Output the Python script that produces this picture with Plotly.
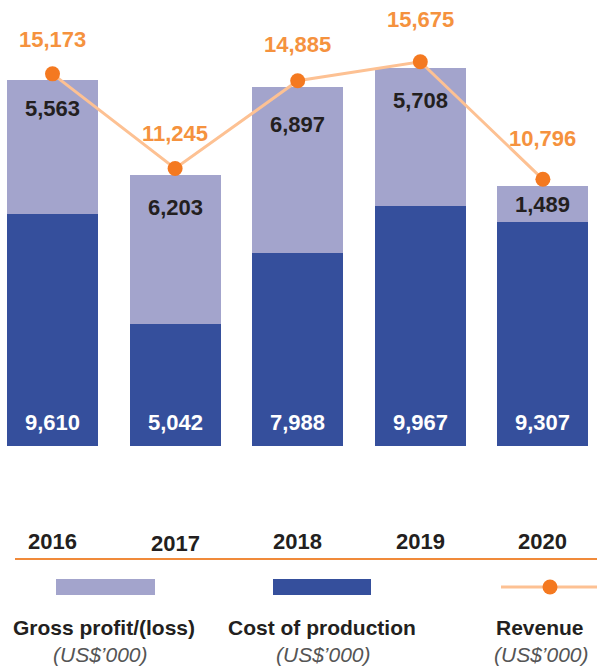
import plotly.graph_objects as go

years = ["2016", "2017", "2018", "2019", "2020"]
cost_of_production = [9610, 5042, 7988, 9967, 9307]
gross_profit = [5563, 6203, 6897, 5708, 1489]
revenue = [15173, 11245, 14885, 15675, 10796]

W, H = 597, 671
PLOT_BOTTOM = 446          # pixel y of bar baseline
PX_PER_UNIT = 0.0241
Y_MAX = PLOT_BOTTOM / PX_PER_UNIT
REV_SHIFT = 6.5 / PX_PER_UNIT   # revenue line sits slightly above bar tops

LIGHT = "#A3A4CC"
DARK = "#354F9C"
ORANGE = "#F47920"
ORANGE_TXT = "#F5923E"
LINE_LT = "#FDC193"
TXT = "#231F20"
FONT = "Liberation Sans, Arial, sans-serif"
NUM_SIZE = 22

def py(p):  # pixel y -> paper y
    return (PLOT_BOTTOM - p) / PLOT_BOTTOM

def px(p):
    return p / W

fig = go.Figure()
fig.add_trace(go.Bar(x=years, y=cost_of_production, marker=dict(color=DARK, line=dict(width=0)),
                     width=0.742, name="Cost of production", showlegend=False))
fig.add_trace(go.Bar(x=years, y=gross_profit, marker=dict(color=LIGHT, line=dict(width=0)),
                     width=0.742, name="Gross profit/(loss)", showlegend=False))
fig.add_trace(go.Scatter(x=years, y=revenue, yaxis="y2", mode="lines+markers",
                         line=dict(color=LINE_LT, width=3),
                         marker=dict(color=ORANGE, size=15),
                         name="Revenue", showlegend=False))

annotations = []
gp_offsets = [28, 32, 37, 32, 19]
rev_offsets = [34, 35, 36, 42, 41]
year_shift = [95, 97, 95, 95, 95]
for i, yr in enumerate(years):
    total = cost_of_production[i] + gross_profit[i]
    annotations.append(dict(x=i, y=total, xref="x", yref="y", text=f"{gross_profit[i]:,}", showarrow=False,
                            yanchor="middle", yshift=-gp_offsets[i],
                            font=dict(family=FONT, size=NUM_SIZE, color=TXT, weight="bold")))
    annotations.append(dict(x=i, y=0, xref="x", yref="y", text=f"{cost_of_production[i]:,}", showarrow=False,
                            yanchor="middle", yshift=24,
                            font=dict(family=FONT, size=NUM_SIZE, color="white", weight="bold")))
    annotations.append(dict(x=i, y=revenue[i], xref="x", yref="y2", text=f"{revenue[i]:,}", showarrow=False,
                            yanchor="middle", yshift=rev_offsets[i],
                            font=dict(family=FONT, size=NUM_SIZE, color=ORANGE_TXT, weight="bold")))
    annotations.append(dict(x=i, y=0, xref="x", yref="paper", text=yr, showarrow=False,
                            yanchor="middle", yshift=-year_shift[i],
                            font=dict(family=FONT, size=NUM_SIZE, color=TXT, weight="bold")))

legend_items = [("Gross profit/(loss)", 104, 100), ("Cost of production", 322, 323), ("Revenue", 540, 541)]
for title, cx, sx in legend_items:
    annotations.append(dict(x=px(cx), y=py(627), xref="paper", yref="paper", text=title,
                            showarrow=False, xanchor="center", yanchor="middle",
                            font=dict(family=FONT, size=21, color=TXT, weight="bold")))
    annotations.append(dict(x=px(sx), y=py(654), xref="paper", yref="paper", text="<i>(US$\u2019000)</i>",
                            showarrow=False, xanchor="center", yanchor="middle",
                            font=dict(family=FONT, size=21, color="#555555")))

shapes = [
    dict(type="line", xref="paper", yref="paper", x0=px(15), x1=1, y0=py(559), y1=py(559),
         line=dict(color="#F08A3A", width=2)),
    dict(type="rect", xref="paper", yref="paper", x0=px(56), x1=px(155), y0=py(579), y1=py(595),
         fillcolor=LIGHT, line=dict(width=0)),
    dict(type="rect", xref="paper", yref="paper", x0=px(273), x1=px(371), y0=py(579), y1=py(595),
         fillcolor=DARK, line=dict(width=0)),
    dict(type="line", xref="paper", yref="paper", x0=px(501), x1=1, y0=py(587), y1=py(587),
         line=dict(color=LINE_LT, width=3)),
    dict(type="circle", xref="paper", yref="paper", x0=px(550 - 7.5), x1=px(550 + 7.5),
         y0=py(587 + 7.5), y1=py(587 - 7.5), fillcolor=ORANGE, line=dict(width=0)),
]

fig.update_layout(
    width=W, height=H, barmode="stack",
    margin=dict(l=0, r=0, t=0, b=H - PLOT_BOTTOM, pad=0),
    paper_bgcolor="white", plot_bgcolor="white",
    xaxis=dict(type="category", range=[-52.5 / 122.6, (W - 52.5) / 122.6], showticklabels=False,
               showgrid=False, zeroline=False, showline=False, fixedrange=True),
    yaxis=dict(range=[0, Y_MAX], showticklabels=False, showgrid=False, zeroline=False,
               showline=False, fixedrange=True),
    yaxis2=dict(range=[-REV_SHIFT, Y_MAX - REV_SHIFT], overlaying="y", showticklabels=False,
                showgrid=False, zeroline=False, showline=False, fixedrange=True),
    annotations=annotations, shapes=shapes, showlegend=False,
)

fig.write_html("out.html", config={"displayModeBar": False},
               post_script="document.body.style.margin='0';document.body.style.overflow='hidden';")
